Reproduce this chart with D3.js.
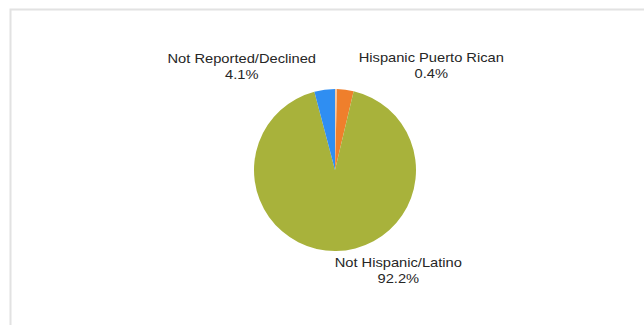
<!DOCTYPE html>
<html>
<head>
<meta charset="utf-8">
<script src="https://cdn.jsdelivr.net/npm/d3@7"></script>
<style>
  body { margin: 0; background: #fff; }
  text { font-family: "Liberation Sans", Arial, sans-serif; fill: #262626; }
</style>
</head>
<body>
<div id="chart"></div>
<script>
// slice data, clockwise from 12 o'clock
var categories = ["Hispanic Puerto Rican", "Hispanic Other", "Not Hispanic/Latino", "Not Reported/Declined"];
var values     = [0.4, 3.3, 92.2, 4.1];
var showLabel  = [true, false, true, true];

const width = 644, height = 325;
const cx = 335, cy = 170;
const radius = 81;

// horizontal push of each label away from its slice
var labelShift = {"Hispanic Puerto Rican": 95, "Not Hispanic/Latino": 62, "Not Reported/Declined": -80};

const svg = d3.select("#chart")
              .append("svg")
              .attr("width", width)
              .attr("height", height);

// panel frame
svg.append("rect")
   .attr("x", 10.5).attr("y", 9.5)
   .attr("width", width + 20).attr("height", height + 20)
   .attr("fill", "none")
   .attr("stroke", "#e2e2e2")
   .attr("stroke-width", 2);

var color = d3.scaleOrdinal()
      .domain(categories)
      .range(["#f6c9a2", "#ef7f2c", "#a8b23b", "#2f8ef2"]);

var pie = d3.pie().sort(null).value(function(d) { return d.v; });
var data = categories.map(function(c, i) { return {name: c, v: values[i], show: showLabel[i]}; });

var arc = d3.arc().innerRadius(0).outerRadius(radius);
var labelArc = d3.arc().innerRadius(radius + 22).outerRadius(radius + 22);

var g = svg.append("g").attr("transform", "translate(" + cx + "," + cy + ")");

g.selectAll("path")
  .data(pie(data))
  .enter()
  .append("path")
  .attr("d", arc)
  .attr("fill", function(d) { return color(d.data.name); });

var labels = g.selectAll(".lbl")
  .data(pie(data).filter(function(d) { return d.data.show; }))
  .enter()
  .append("text")
  .attr("class", "lbl")
  .attr("text-anchor", "middle")
  .style("font-size", "13px")
  .attr("transform", function(d) {
    var c = labelArc.centroid(d);
    return "translate(" + (c[0] + labelShift[d.data.name]) + "," + c[1] + ") scale(1.13,1)";
  });

labels.append("tspan")
  .attr("x", 0)
  .attr("dy", function(d) { return labelArc.centroid(d)[1] < 0 ? "-0.4em" : "-0.45em"; })
  .text(function(d) { return d.data.name; });

labels.append("tspan")
  .attr("x", 0)
  .attr("dy", "1.25em")
  .text(function(d) { return d.data.v.toFixed(1) + "%"; });
</script>
</body>
</html>
